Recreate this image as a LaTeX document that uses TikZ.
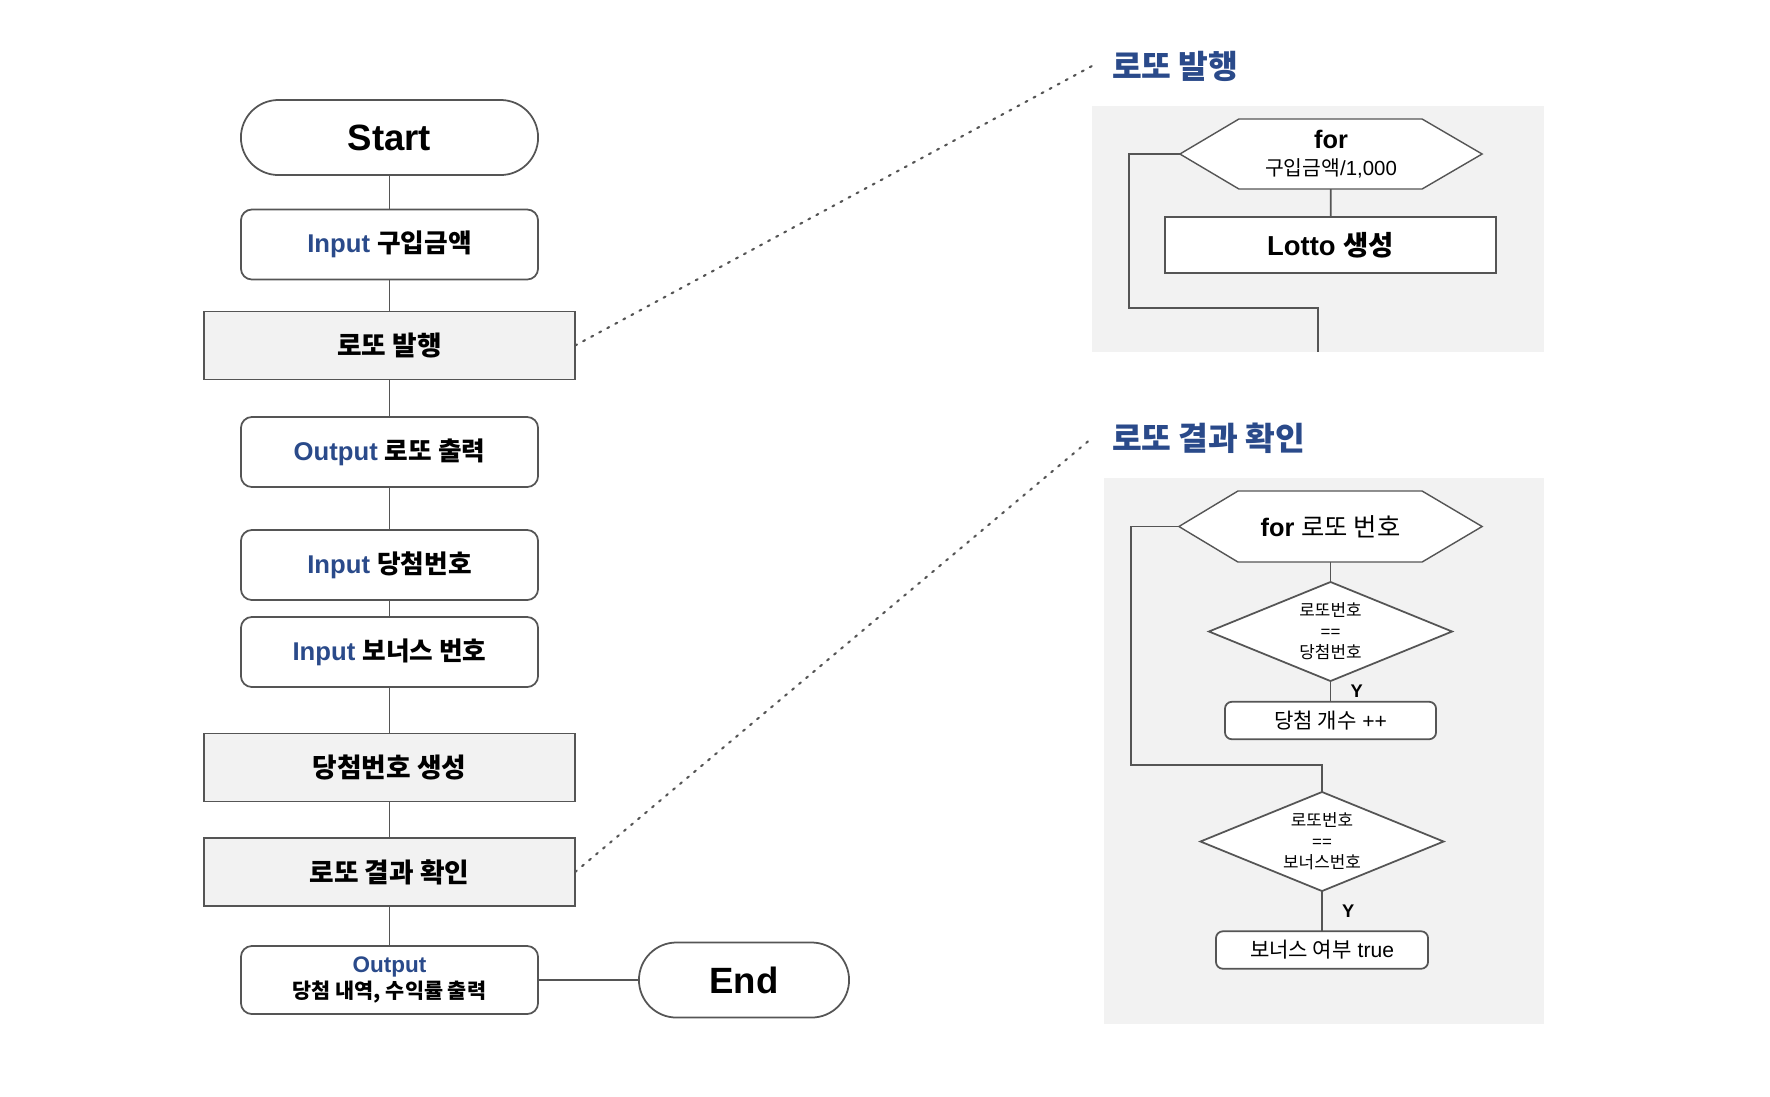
\documentclass[tikz,border=0pt]{standalone}
\usepackage{fontspec}
\setmainfont{Liberation Sans}
\newfontfamily\kor{Noto Sans CJK KR}
\usetikzlibrary{shapes.geometric,backgrounds}

\definecolor{navy}{HTML}{2A4A8A}
\definecolor{linegray}{HTML}{555555}
\definecolor{panelgray}{HTML}{F2F2F2}

\begin{document}
\begin{tikzpicture}[x=0.01cm,y=-0.01cm,line width=0.5pt,
    every node/.style={inner sep=0pt,outer sep=0pt},
    conn/.style={draw=linegray},
    term/.style={draw=linegray,fill=white,rounded corners=0.375cm,
      minimum width=2.97cm,minimum height=0.75cm,font=\fontsize{10.4}{12}\selectfont\bfseries},
    io/.style={draw=linegray,fill=white,rounded corners=0.11cm,
      minimum width=2.97cm,minimum height=0.70cm,font=\fontsize{7.3}{9}\selectfont\bfseries},
    proc/.style={draw=linegray,fill=panelgray,minimum width=3.71cm,minimum height=0.68cm,
      font=\fontsize{7.6}{9}\selectfont\bfseries\kor},
    hexa/.style={minimum width=3.02cm,minimum height=0.70cm,align=center},
    cond/.style={draw=linegray,fill=white,diamond,shape aspect=2.45,
      minimum width=2.43cm,minimum height=0.99cm,
      align=center,font=\fontsize{4.8}{6}\selectfont},
    small/.style={draw=linegray,fill=white,rounded corners=0.07cm,minimum height=0.375cm,
      font=\fontsize{6}{7}\selectfont},
    yes/.style={font=\fontsize{5.2}{6}\selectfont\bfseries},
    title/.style={anchor=west,text=navy,font=\fontsize{9.2}{11}\selectfont\bfseries\kor}]

  \useasboundingbox (0,0) rectangle (1770,1096);

  %%%%%%%%%%%%%%%%%%%%%%%%%%%%%%%%%%%%%%%%%%%%%%%%%%%%%%%%%%%%%%%%%%%%%%%%%%%
  %%%%  main flow
  \node[term] (start) at (389.5,137.5) {Start};
  \node[io]   (in1)   at (389.5,244.5) {\textcolor{navy}{Input} {\kor 구입금액}};
  \node[proc] (issue) at (389.5,345.5) {로또 발행};
  \node[io]   (out1)  at (389.5,452)   {\textcolor{navy}{Output} {\kor 로또 출력}};
  \node[io]   (in2)   at (389.5,565)   {\textcolor{navy}{Input} {\kor 당첨번호}};
  \node[io]   (in3)   at (389.5,652)   {\textcolor{navy}{Input} {\kor 보너스 번호}};
  \node[proc] (gen)   at (389.5,767.5) {당첨번호 생성};
  \node[proc] (check) at (389.5,872)   {로또 결과 확인};
  \node[io,align=center,minimum height=0.68cm] (out2) at (389.5,980)
    {\textcolor{navy}{\fontsize{6.4}{7.4}\selectfont Output}\\[-1.8pt]
     {\fontsize{5.9}{7}\selectfont\kor 당첨 내역, 수익률 출력}};
  \node[term,minimum width=2.10cm] (end) at (744,980) {End};

  \foreach \a/\b in {start/in1,in1/issue,issue/out1,out1/in2,in2/in3,in3/gen,gen/check,check/out2}
    {\draw[conn] (\a) -- (\b);}
  \draw[conn] (out2) -- (end);

  %%%%%%%%%%%%%%%%%%%%%%%%%%%%%%%%%%%%%%%%%%%%%%%%%%%%%%%%%%%%%%%%%%%%%%%%%%%
  %%%%  zoom: lotto issue
  \node[title] (title1) at (1112,66) {로또 발행};
  \node[hexa] (hexA) at (1331,154)
    {{\fontsize{7.2}{8}\selectfont\bfseries for}\\[-4.2pt]
     {\fontsize{5.8}{7}\selectfont{\kor 구입금액}/1,000}};
  \node[draw=linegray,fill=white,minimum width=3.31cm,minimum height=0.56cm,
    font=\fontsize{7.8}{9}\selectfont\bfseries] (lotto) at (1330.5,245) {Lotto {\kor 생성}};
  \coordinate (loopA) at (1318,352);

  \draw[conn] (hexA) -- (lotto);
  \draw[conn] (hexA.west) -| (1129,308) -| (loopA);

  %%%%%%%%%%%%%%%%%%%%%%%%%%%%%%%%%%%%%%%%%%%%%%%%%%%%%%%%%%%%%%%%%%%%%%%%%%%
  %%%%  zoom: result check
  \node[title] (title2) at (1112,438) {로또 결과 확인};
  \node[hexa,minimum width=3.03cm,minimum height=0.71cm] (hexB) at (1330.5,526.5)
    {\fontsize{7.2}{8}\selectfont\textbf{for} {\kor 로또 번호}};
  \node[cond] (dia1) at (1330.5,631.5) {{\kor 로또번호}\\==\\{\kor 당첨번호}};
  \node[small,minimum width=2.11cm] (cnt) at (1330.5,720.5) {{\kor 당첨 개수} ++};
  \node[cond] (dia2) at (1322,841.5) {{\kor 로또번호}\\==\\{\kor 보너스번호}};
  \node[small,minimum width=2.12cm] (bonus) at (1322,950) {{\kor 보너스 여부} true};

  \draw[conn] (hexB) -- (dia1);
  \draw[conn] (dia1) -- node[yes,right=0.2cm] {Y} (cnt);
  \draw[conn] (hexB.west) -| (1131,765) -| (dia2.north);
  \draw[conn] (dia2) -- node[yes,right=0.2cm] {Y} (bonus);

  %%%%  dotted leaders
  \draw[linegray,dotted,line cap=round,line width=0.6pt] (issue.east) -- ([xshift=-0.2cm]title1.west);
  \draw[linegray,dotted,line cap=round,line width=0.6pt] (check.east) -- ([xshift=-0.2cm]title2.west);

  %%%%  panels and hexagon outlines
  \begin{pgfonlayer}{background}
    \fill[panelgray] (1092,106) rectangle (1544,352);
    \fill[panelgray] (1104,478) rectangle (1544,1024);
    \foreach \h in {hexA,hexB}
      {\draw[linegray,fill=white] (\h.west) -- ([xshift=0.59cm]\h.north west)
         -- ([xshift=-0.60cm]\h.north east) -- (\h.east)
         -- ([xshift=-0.60cm]\h.south east) -- ([xshift=0.59cm]\h.south west) -- cycle;}
  \end{pgfonlayer}
\end{tikzpicture}
\end{document}
